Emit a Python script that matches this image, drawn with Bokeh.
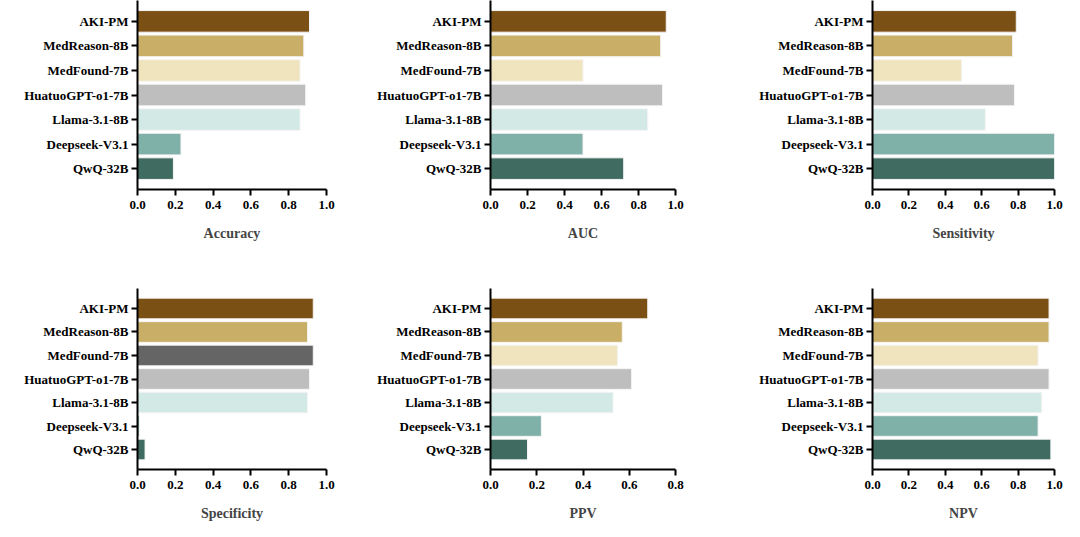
from bokeh.plotting import figure
from bokeh.layouts import gridplot
from bokeh.models import FactorRange, Range1d, ColumnDataSource
from bokeh.embed import file_html
from bokeh.resources import INLINE

models = ["AKI-PM", "MedReason-8B", "MedFound-7B", "HuatuoGPT-o1-7B", "Llama-3.1-8B", "Deepseek-V3.1", "QwQ-32B"]
colors = ["#7B5014", "#C8AE66", "#F0E4BE", "#BEBEBE", "#D3E9E5", "#7FB1A9", "#3F6B60"]
spec_colors = ["#7B5014", "#C8AE66", "#656565", "#BEBEBE", "#D3E9E5", "#7FB1A9", "#3F6B60"]

accuracy = [0.91, 0.88, 0.86, 0.89, 0.86, 0.23, 0.19]
auc = [0.95, 0.92, 0.50, 0.93, 0.85, 0.50, 0.72]
sensitivity = [0.79, 0.77, 0.49, 0.78, 0.62, 1.0, 1.0]
specificity = [0.93, 0.90, 0.93, 0.91, 0.90, 0.01, 0.04]
ppv = [0.68, 0.57, 0.55, 0.61, 0.53, 0.22, 0.16]
npv = [0.97, 0.97, 0.91, 0.97, 0.93, 0.91, 0.98]

FONT = "Liberation Serif"

def panel(title, vals, cols, xmax, width, bl, br, height, bt, bb):
    p = figure(y_range=FactorRange(*reversed(models), range_padding=0.1),
               x_range=Range1d(0, xmax), width=width, height=height,
               output_backend="svg", toolbar_location=None,
               min_border_left=bl, min_border_right=br, min_border_top=bt, min_border_bottom=bb)
    src = ColumnDataSource(dict(m=models, v=vals, c=cols))
    p.hbar(y="m", right="v", left=0, height=0.88, color="c", line_color="#f4f4f4", line_width=1, source=src)
    p.xgrid.visible = False
    p.ygrid.visible = False
    p.outline_line_color = None
    p.xaxis.axis_label = title
    p.xaxis.ticker = [i / 5 for i in range(6)] if xmax == 1 else [0, 0.2, 0.4, 0.6, 0.8]
    p.xaxis.formatter.use_scientific = False
    from bokeh.models import CustomJSTickFormatter
    p.xaxis.formatter = CustomJSTickFormatter(code="return tick.toFixed(1)")
    for ax in (p.xaxis, p.yaxis):
        ax.axis_line_width = 2
        ax.axis_line_color = "black"
        ax.major_tick_line_width = 2
        ax.major_tick_out = 6
        ax.major_tick_in = 0
        ax.minor_tick_line_color = None
        ax.major_label_text_font = FONT
        ax.major_label_text_font_style = "bold"
        ax.major_label_text_font_size = "13px"
        ax.major_label_text_color = "black"
    p.yaxis.major_label_standoff = 3
    p.xaxis.axis_label_text_font = FONT
    p.xaxis.axis_label_text_font_style = "bold"
    p.xaxis.axis_label_text_font_size = "14px"
    p.xaxis.axis_label_standoff = 14
    return p

h1, bt1, bb1 = 262, 0, 73
h2, bt2, bb2 = 261, 26, 52
row1 = [
    panel("Accuracy", accuracy, colors, 1, 355, 137, 29, h1, bt1, bb1),
    panel("AUC", auc, colors, 1, 380, 135, 60, h1, bt1, bb1),
    panel("Sensitivity", sensitivity, colors, 1, 329, 137, 10, h1, bt1, bb1),
]
row2 = [
    panel("Specificity", specificity, spec_colors, 1, 355, 137, 29, h2, bt2, bb2),
    panel("PPV", ppv, colors, 0.8, 380, 135, 60, h2, bt2, bb2),
    panel("NPV", npv, colors, 1, 329, 137, 10, h2, bt2, bb2),
]
g = gridplot([row1, row2], toolbar_location=None)
open("out.html", "w").write(file_html(g, INLINE))
